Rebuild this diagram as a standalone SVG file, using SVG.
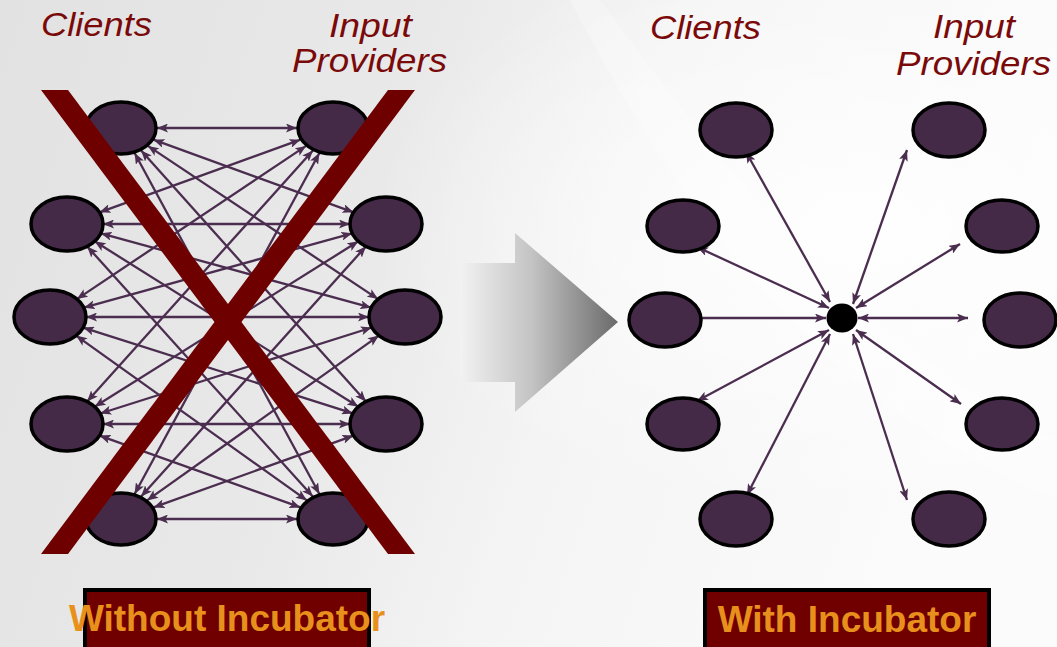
<svg xmlns="http://www.w3.org/2000/svg" width="1057" height="647" viewBox="0 0 1057 647">
<defs>
<linearGradient id="bg" x1="0" y1="0" x2="1" y2="0.2">
<stop offset="0" stop-color="#e2e2e2"/>
<stop offset="0.4" stop-color="#e9e9e9"/>
<stop offset="0.62" stop-color="#f4f4f4"/>
<stop offset="1" stop-color="#fbfbfb"/>
</linearGradient>
<radialGradient id="glow" cx="0.8" cy="0.35" r="0.45">
<stop offset="0" stop-color="#ffffff" stop-opacity="0.9"/>
<stop offset="1" stop-color="#ffffff" stop-opacity="0"/>
</radialGradient>
<linearGradient id="arr" x1="460" y1="0" x2="618" y2="0" gradientUnits="userSpaceOnUse">
<stop offset="0" stop-color="#f2f2f2"/>
<stop offset="0.45" stop-color="#c4c4c4"/>
<stop offset="1" stop-color="#6a6a6a"/>
</linearGradient>
<marker id="ah" viewBox="0 0 11 9" markerWidth="11" markerHeight="9" refX="11" refY="4.5" orient="auto-start-reverse" markerUnits="userSpaceOnUse">
<path d="M0,0 L11,4.5 L0,9 L2.5,4.5 z" fill="#4b2d4f"/>
</marker>
<style>
.node{fill:#452a48;stroke:#000;stroke-width:3.5}
.ln{stroke:#4b2d4f;stroke-width:2.3;fill:none;marker-start:url(#ah);marker-end:url(#ah)}
.ln1{stroke:#4b2d4f;stroke-width:2.3;fill:none;marker-end:url(#ah)}
.ttl{font-family:"Liberation Sans",Arial,sans-serif;font-style:italic;font-size:33px;fill:#7a0a0a}
.lbl{font-family:"Liberation Sans",Arial,sans-serif;font-weight:bold;font-size:37px;fill:#e8901c}
.box{fill:#700000;stroke:#000;stroke-width:4}
.x{fill:#6e0000}
</style>
</defs>
<rect width="1057" height="647" fill="url(#bg)"/>
<rect width="1057" height="647" fill="url(#glow)"/>
<path d="M600,0 C720,160 840,330 1057,440 L1057,500 C820,400 690,230 570,0 Z" fill="#ffffff" opacity="0.25"/>

<g id="titles">
<text class="ttl" x="41" y="36" textLength="111" lengthAdjust="spacingAndGlyphs">Clients</text>
<text class="ttl" x="329" y="37" textLength="83" lengthAdjust="spacingAndGlyphs">Input</text>
<text class="ttl" x="292" y="72" textLength="155" lengthAdjust="spacingAndGlyphs">Providers</text>
<text class="ttl" x="650" y="39" textLength="111" lengthAdjust="spacingAndGlyphs">Clients</text>
<text class="ttl" x="933" y="38" textLength="82" lengthAdjust="spacingAndGlyphs">Input</text>
<text class="ttl" x="896" y="75" textLength="155" lengthAdjust="spacingAndGlyphs">Providers</text>
</g>

<g id="connectors-left">
<line class="ln" x1="157" y1="128" x2="297" y2="128"/>
<line class="ln" x1="153.4" y1="139.7" x2="353.6" y2="212.3"/>
<line class="ln" x1="147.9" y1="145.9" x2="378.1" y2="299.1"/>
<line class="ln" x1="141.1" y1="150.4" x2="365.9" y2="401.6"/>
<line class="ln" x1="134.6" y1="153" x2="319.4" y2="494"/>
<line class="ln" x1="99.5" y1="212.3" x2="300.5" y2="139.7"/>
<line class="ln" x1="103" y1="224" x2="350" y2="224"/>
<line class="ln" x1="100.8" y1="233.3" x2="371.2" y2="307.7"/>
<line class="ln" x1="94.6" y1="241.3" x2="358.4" y2="406.7"/>
<line class="ln" x1="87.2" y1="246.4" x2="312.8" y2="496.6"/>
<line class="ln" x1="76.9" y1="299.1" x2="306.1" y2="145.9"/>
<line class="ln" x1="83.8" y1="307.7" x2="352.2" y2="233.3"/>
<line class="ln" x1="86" y1="317" x2="369" y2="317"/>
<line class="ln" x1="83.1" y1="327.6" x2="352.9" y2="413.4"/>
<line class="ln" x1="76.1" y1="335.6" x2="306.9" y2="500.4"/>
<line class="ln" x1="87.1" y1="401.6" x2="312.9" y2="150.4"/>
<line class="ln" x1="94.6" y1="406.7" x2="358.4" y2="241.3"/>
<line class="ln" x1="100.2" y1="413.5" x2="371.8" y2="327.5"/>
<line class="ln" x1="103" y1="424" x2="350" y2="424"/>
<line class="ln" x1="99.5" y1="435.6" x2="300.5" y2="507.4"/>
<line class="ln" x1="134.6" y1="494" x2="319.4" y2="153"/>
<line class="ln" x1="141.1" y1="496.6" x2="365.9" y2="246.4"/>
<line class="ln" x1="147.1" y1="500.4" x2="378.9" y2="335.6"/>
<line class="ln" x1="153.5" y1="507.4" x2="353.5" y2="435.6"/>
<line class="ln" x1="157" y1="519" x2="297" y2="519"/>
</g>

<g id="left-clients">
<ellipse id="lc1" class="node" cx="121" cy="128" rx="35" ry="26"/>
<ellipse id="lc2" class="node" cx="67" cy="224" rx="36" ry="27"/>
<ellipse id="lc3" class="node" cx="50" cy="317" rx="36" ry="27"/>
<ellipse id="lc4" class="node" cx="67" cy="424" rx="36" ry="27"/>
<ellipse id="lc5" class="node" cx="121" cy="519" rx="35" ry="26"/>
</g>
<g id="left-providers">
<ellipse id="lp1" class="node" cx="333" cy="128" rx="35" ry="26"/>
<ellipse id="lp2" class="node" cx="386" cy="224" rx="36" ry="27"/>
<ellipse id="lp3" class="node" cx="405" cy="317" rx="36" ry="27"/>
<ellipse id="lp4" class="node" cx="386" cy="424" rx="36" ry="27"/>
<ellipse id="lp5" class="node" cx="333" cy="519" rx="35" ry="26"/>
</g>

<g id="cross">
<polygon class="x" points="41,90 68,90 415,554 388,554"/>
<polygon class="x" points="388,90 415,90 68,554 41,554"/>
</g>

<g id="transition-arrow">
<polygon points="460,263 515,263 515,233 618,322 515,412 515,382 460,382" fill="url(#arr)"/>
</g>

<g id="connectors-right">
<line class="ln" x1="746" y1="152" x2="830" y2="302"/>
<line class="ln" x1="697" y1="247" x2="829" y2="308"/>
<line class="ln1" x1="702" y1="318" x2="826" y2="318"/>
<line class="ln" x1="697" y1="401" x2="829" y2="330"/>
<line class="ln" x1="747" y1="495" x2="830" y2="334"/>
<line class="ln" x1="907" y1="150" x2="853" y2="304"/>
<line class="ln" x1="960" y1="244" x2="856" y2="308"/>
<line class="ln" x1="968" y1="318" x2="858" y2="318"/>
<line class="ln" x1="961" y1="404" x2="856" y2="330"/>
<line class="ln" x1="907" y1="500" x2="853" y2="334"/>
</g>

<g id="hub">
<ellipse cx="842" cy="318" rx="15.5" ry="14.5" fill="#000"/>
</g>
<g id="right-clients">
<ellipse id="rc1" class="node" cx="736" cy="130" rx="36" ry="27"/>
<ellipse id="rc2" class="node" cx="683" cy="226" rx="36" ry="26"/>
<ellipse id="rc3" class="node" cx="665" cy="320" rx="36" ry="27"/>
<ellipse id="rc4" class="node" cx="683" cy="424" rx="36" ry="26"/>
<ellipse id="rc5" class="node" cx="736" cy="519" rx="36" ry="27"/>
</g>
<g id="right-providers">
<ellipse id="rp1" class="node" cx="949" cy="130" rx="36" ry="27"/>
<ellipse id="rp2" class="node" cx="1002" cy="226" rx="36" ry="26"/>
<ellipse id="rp3" class="node" cx="1020" cy="320" rx="36" ry="27"/>
<ellipse id="rp4" class="node" cx="1002" cy="424" rx="36" ry="26"/>
<ellipse id="rp5" class="node" cx="949" cy="519" rx="36" ry="27"/>
</g>

<g id="label-without">
<rect class="box" x="85" y="590" width="284" height="62"/>
<text class="lbl" x="227" y="631" text-anchor="middle">Without Incubator</text>
</g>
<g id="label-with">
<rect class="box" x="705" y="590" width="284" height="62"/>
<text class="lbl" x="847" y="632" text-anchor="middle">With Incubator</text>
</g>
</svg>
